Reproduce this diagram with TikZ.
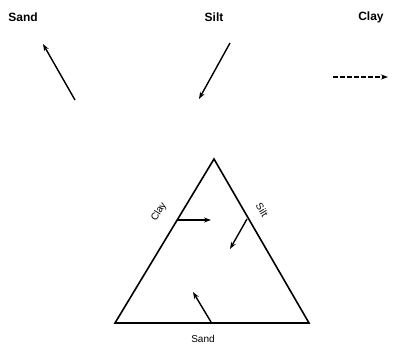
\documentclass[tikz,border=0pt]{standalone}
\usepackage{fontspec}
\setmainfont{Liberation Sans}
\usetikzlibrary{arrows.meta}
\begin{document}
\begin{tikzpicture}[x=1pt,y=-1pt,
  toplabel/.style={font=\fontsize{12}{14}\selectfont\bfseries, inner sep=0pt},
  sidelabel/.style={font=\fontsize{10}{12}\selectfont, inner sep=0pt},
  edge/.style={line width=1.6pt},
  arr/.style={line width=1.4pt, -{Stealth[length=7pt,width=5pt]}}]
\useasboundingbox (0,0) rectangle (397,351);
% top legend
\node[toplabel] (sandT) at (23,17) {Sand};
\node[toplabel] (siltT) at (214,17) {Silt};
\node[toplabel] (clayT) at (371,17) {Clay};
\coordinate (sa1) at (75,100);
\coordinate (sa2) at (43,44);
\draw[arr] (sa1) -- (sa2);
\coordinate (si1) at (230,43);
\coordinate (si2) at (199,99);
\draw[arr] (si1) -- (si2);
\coordinate (cl1) at (333,77);
\coordinate (cl2) at (388,77);
\draw[arr, dash pattern=on 5pt off 2pt] (cl1) -- (cl2);
% triangle
\coordinate (A) at (214,159);
\coordinate (B) at (115,323);
\coordinate (C) at (309,323);
\draw[edge, line join=miter] (B) -- (A) -- (C) -- cycle;
% edge labels
\node[sidelabel, rotate=59] (clayL) at (159,212) {Clay};
\node[sidelabel, rotate=-59] (siltL) at (262,210) {Silt};
\node[sidelabel] (sandL) at (203,339) {Sand};
% inner arrows
\coordinate (ca1) at (177,220);
\coordinate (ca2) at (211,220);
\draw[arr] (ca1) -- (ca2);
\coordinate (ta1) at (247,219);
\coordinate (ta2) at (230,249);
\draw[arr] (ta1) -- (ta2);
\coordinate (na1) at (211,322);
\coordinate (na2) at (193,292);
\draw[arr] (na1) -- (na2);
\end{tikzpicture}
\end{document}
